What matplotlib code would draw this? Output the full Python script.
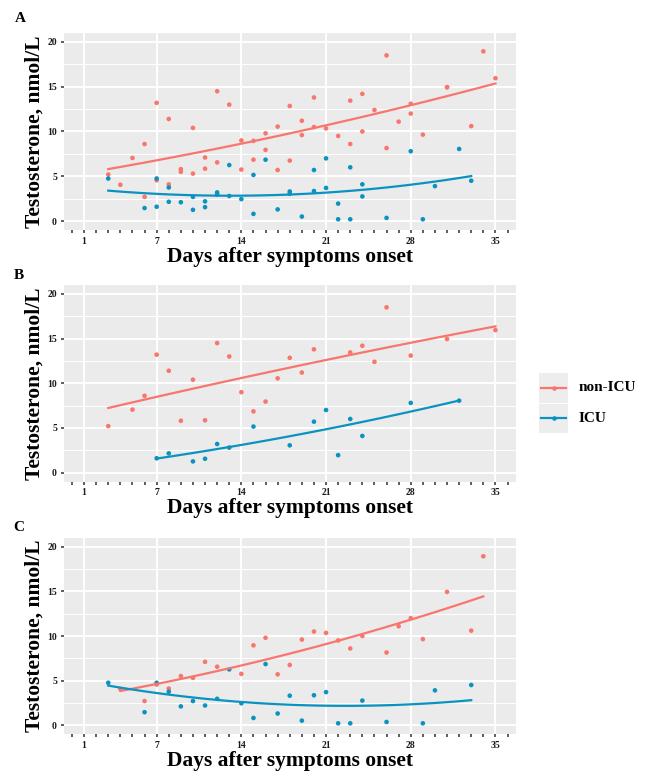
import numpy as np
import matplotlib
matplotlib.use('Agg')
import matplotlib.pyplot as plt
from matplotlib.patches import Rectangle
from matplotlib.lines import Line2D
from matplotlib.ticker import FixedLocator, MultipleLocator

# ---------------- data ----------------
# Panel B subgroup
b_non_icu_day = [3, 5, 6, 7, 8, 9, 10, 11, 12, 13, 14, 15, 16, 17, 18, 19, 20, 23, 24, 25, 26, 28, 31, 35]
b_non_icu_t = [5.2, 7.05, 8.6, 13.2, 11.4, 5.8, 10.4, 5.85, 14.5, 13.0, 9.0, 6.85, 7.95, 10.55, 12.85, 11.2, 13.8,
               13.45, 14.2, 12.4, 18.5, 13.1, 14.95, 15.95]
b_icu_day = [7, 8, 10, 11, 12, 13, 15, 18, 20, 21, 22, 23, 24, 28, 32]
b_icu_t = [1.6, 2.15, 1.25, 1.55, 3.2, 2.8, 5.15, 3.05, 5.7, 7.0, 1.95, 6.0, 4.1, 7.8, 8.05]

# Panel C subgroup
c_non_icu_day = [4, 6, 7, 8, 9, 10, 11, 12, 14, 15, 16, 17, 18, 19, 20, 21, 22, 23, 24, 26, 27, 28, 29, 31, 33, 34]
c_non_icu_t = [4.05, 2.7, 4.55, 4.1, 5.5, 5.3, 7.1, 6.55, 5.75, 8.95, 9.8, 5.7, 6.75, 9.6, 10.5, 10.35, 9.5, 8.6,
               10.0, 8.15, 11.1, 12.0, 9.65, 14.95, 10.6, 18.95]
c_icu_day = [3, 6, 7, 8, 9, 10, 11, 12, 13, 14, 15, 16, 17, 18, 19, 20, 21, 22, 23, 24, 26, 29, 30, 33]
c_icu_t = [4.75, 1.45, 4.75, 3.75, 2.1, 2.7, 2.2, 2.95, 6.25, 2.45, 0.8, 6.85, 1.3, 3.3, 0.5, 3.35, 3.7, 0.2, 0.2,
           2.75, 0.35, 0.2, 3.9, 4.5]

# Panel A = all patients
a_non_icu_day = b_non_icu_day + c_non_icu_day
a_non_icu_t = b_non_icu_t + c_non_icu_t
a_icu_day = b_icu_day + c_icu_day
a_icu_t = b_icu_t + c_icu_t

groups = ["non-ICU", "ICU"]
panel_labels = ["A", "B", "C"]
x_tick_labels = [1, 7, 14, 21, 28, 35]
y_tick_labels = [0, 5, 10, 15, 20]
x_label = "Days after symptoms onset"
y_label = "Testosterone, nmol/L"

colors = {"non-ICU": "#F8766D", "ICU": "#0A93C0"}

panels = [
    {"non-ICU": (a_non_icu_day, a_non_icu_t), "ICU": (a_icu_day, a_icu_t)},
    {"non-ICU": (b_non_icu_day, b_non_icu_t), "ICU": (b_icu_day, b_icu_t)},
    {"non-ICU": (c_non_icu_day, c_non_icu_t), "ICU": (c_icu_day, c_icu_t)},
]

SERIF = ["Liberation Serif", "DejaVu Serif"]

W, H = 656, 778
fig = plt.figure(figsize=(W / 100, H / 100), dpi=100)

# pixel boxes (left, top, right, bottom)
boxes = [(63.5, 33, 516, 230), (63.5, 285, 516, 481.5), (63.5, 538, 516, 734)]
label_pos = [(20, 18.5), (19, 276), (19, 527.5)]

for i, (box, data) in enumerate(zip(boxes, panels)):
    l, t, r, b = box
    ax = fig.add_axes([l / W, 1 - b / H, (r - l) / W, (b - t) / H])
    ax.set_facecolor("#EBEBEB")
    for s in ax.spines.values():
        s.set_visible(False)
    ax.set_xlim(-0.7, 36.7)
    ax.set_ylim(-1.0, 21.0)
    ax.xaxis.set_major_locator(FixedLocator(x_tick_labels))
    ax.xaxis.set_minor_locator(MultipleLocator(1))
    ax.yaxis.set_major_locator(FixedLocator(y_tick_labels))
    ax.yaxis.set_minor_locator(MultipleLocator(2.5))
    ax.grid(which="major", color="white", linewidth=1.4)
    ax.grid(which="minor", axis="y", color="white", linewidth=0.7)
    ax.set_axisbelow(True)
    ax.tick_params(which="both", axis="x", length=2.2, width=1.1, color="#333333", pad=2.5)
    ax.tick_params(which="major", axis="y", length=2.2, width=1.1, color="#333333", pad=2.5)
    ax.tick_params(which="minor", axis="y", length=0)
    for lab in ax.get_xticklabels() + ax.get_yticklabels():
        lab.set_fontfamily(SERIF)
        lab.set_fontweight("bold")
        lab.set_fontsize(7)
        lab.set_color("#1a1a1a")
    ax.set_xlabel(x_label, fontfamily=SERIF, fontweight="bold", fontsize=15.5, labelpad=1)
    ax.set_ylabel(y_label, fontfamily=SERIF, fontweight="bold", fontsize=15.5, labelpad=2)

    for g in groups:
        xs, ys = np.asarray(data[g][0], float), np.asarray(data[g][1], float)
        ax.scatter(xs, ys, s=11, color=colors[g], edgecolors="none", zorder=3)
        # quadratic trend fitted to the plotted points
        coef = np.polyfit(xs, ys, 2)
        xx = np.linspace(xs.min(), xs.max(), 100)
        ax.plot(xx, np.polyval(coef, xx), color=colors[g], linewidth=1.6, zorder=4)

    lx, ly = label_pos[i]
    fig.text(lx / W, 1 - ly / H, panel_labels[i], fontfamily=SERIF, fontweight="bold", fontsize=11,
             ha="center", va="center")

# legend
lax = fig.add_axes([530 / W, 1 - 440 / H, 126 / W, 80 / H])
lax.set_xlim(530, 656)
lax.set_ylim(440, 360)
lax.axis("off")
for k, g in enumerate(groups):
    y0 = 373 + k * 30.5
    lax.add_patch(Rectangle((539, y0), 29, 29.5, facecolor="#EDEDED", edgecolor="none"))
    yc = y0 + 14.5
    lax.add_line(Line2D([541, 566], [yc, yc], color=colors[g], linewidth=1.6))
    lax.plot([553.5], [yc], marker="o", markersize=3.3, color=colors[g], markeredgewidth=0)
    lax.text(579, yc, g, fontfamily=SERIF, fontweight="bold", fontsize=11, va="center", ha="left")

fig.savefig("out.png", dpi=100)
